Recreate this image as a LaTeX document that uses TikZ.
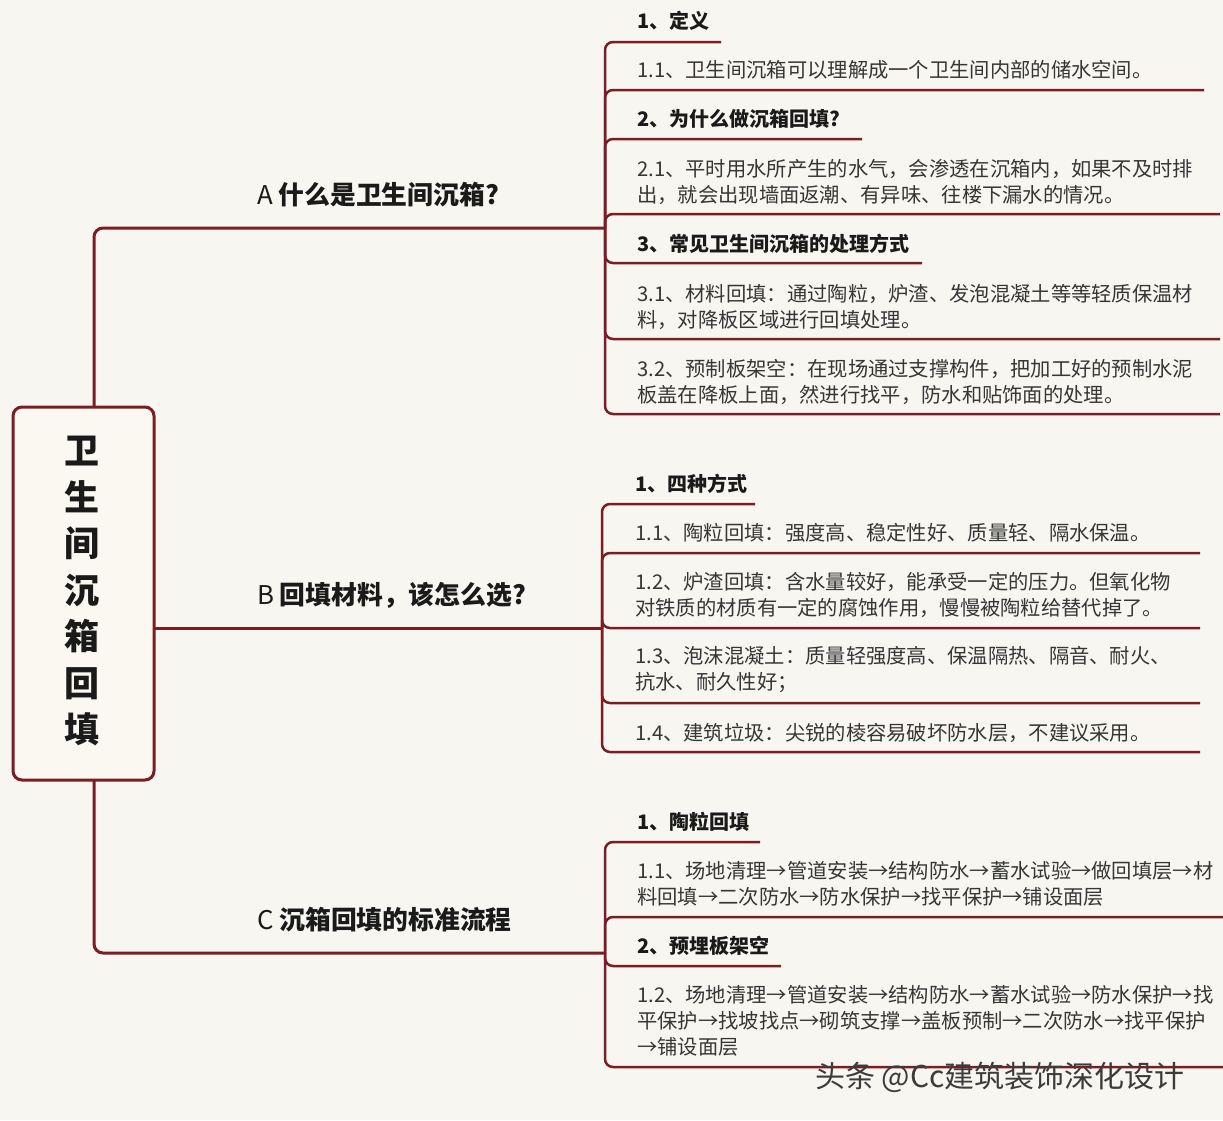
\documentclass[tikz,border=0pt]{standalone}
\usepackage{fontspec}
\setmainfont{Noto Sans CJK SC}
\definecolor{bg}{HTML}{F7F6F1}
\definecolor{ln}{HTML}{7A1E24}
\definecolor{rootfill}{HTML}{FAF8F0}
\definecolor{txt}{HTML}{363636}
\definecolor{hd}{HTML}{1A1A1A}
\begin{document}
\begin{tikzpicture}[x=1pt,y=-1pt,
  br/.style={draw=ln, line width=3pt, rounded corners=9pt},
  sub/.style={draw=ln, line width=2.5pt, rounded corners=8pt},
  body/.style={anchor=west, inner sep=0pt, align=left, text=txt, font=\fontsize{20.3}{26}\selectfont},
  head/.style={anchor=west, inner sep=0pt, text=hd, font=\fontsize{20}{26}\selectfont\bfseries},
  lab/.style={anchor=west, inner sep=0pt, text=hd, font=\fontsize{25.8}{30}\selectfont}]
\fill[bg] (0,0) rectangle (1223,1120);
\useasboundingbox (0,0) rectangle (1223,1120);

% coordinates of branch ends
\coordinate (Aend) at (605,228);
\coordinate (Bend) at (602,628);
\coordinate (Cend) at (605,953);

% main branches
\draw[br] (94,500) |- (Aend);
\draw[br] (100,628) -- (Bend);
\draw[br] (94,700) |- (Cend);

% root
\node[draw=ln, line width=3pt, fill=rootfill, rounded corners=9pt, minimum width=141pt, minimum height=373pt, inner sep=0pt] (root) at (83.5,593.5) {};
\node[inner sep=0pt, align=center, text=hd, font=\fontsize{35}{46.5}\selectfont\bfseries] (rootlbl) at (82,591) {卫\\生\\间\\沉\\箱\\回\\填};

% branch labels
\node[lab] (A) at (257,195) {A \bfseries 什么是卫生间沉箱?};
\node[lab] (B) at (257,595) {B \bfseries 回填材料，该怎么选?};
\node[lab] (C) at (257,920) {C \bfseries 沉箱回填的标准流程};

% A subtree
\draw[sub] (Aend) |- (721,42);
\draw[sub] (Aend) |- (1204,90);
\draw[sub] (Aend) |- (862,139);
\draw[sub] (Aend) |- (1220,214);
\draw[sub] (Aend) |- (922,263);
\draw[sub] (Aend) |- (1220,339);
\draw[sub] (Aend) |- (1220,414);
\node[head] (a1) at (637,21) {1、定义};
\node[body] (a2) at (637,70) {1.1、卫生间沉箱可以理解成一个卫生间内部的储水空间。};
\node[head] (a3) at (637,119) {2、为什么做沉箱回填?};
\node[body] (a4) at (637,182) {2.1、平时用水所产生的水气，会渗透在沉箱内，如果不及时排\\出，就会出现墙面返潮、有异味、往楼下漏水的情况。};
\node[head] (a5) at (637,244) {3、常见卫生间沉箱的处理方式};
\node[body] (a6) at (637,307) {3.1、材料回填：通过陶粒，炉渣、发泡混凝土等等轻质保温材\\料，对降板区域进行回填处理。};
\node[body] (a7) at (637,382) {3.2、预制板架空：在现场通过支撑构件，把加工好的预制水泥\\板盖在降板上面，然进行找平，防水和贴饰面的处理。};

% B subtree
\draw[sub] (Bend) |- (755,504);
\draw[sub] (Bend) |- (1200,553);
\draw[sub] (Bend) |- (1200,628);
\draw[sub] (Bend) |- (1200,703);
\draw[sub] (Bend) |- (1200,752);
\node[head] (b1) at (635,484) {1、四种方式};
\node[body] (b2) at (635,533) {1.1、陶粒回填：强度高、稳定性好、质量轻、隔水保温。};
\node[body] (b3) at (635,595) {1.2、炉渣回填：含水量较好，能承受一定的压力。但氧化物\\对铁质的材质有一定的腐蚀作用，慢慢被陶粒给替代掉了。};
\node[body] (b4) at (635,670) {1.3、泡沫混凝土：质量轻强度高、保温隔热、隔音、耐火、\\抗水、耐久性好；};
\node[body] (b5) at (635,733) {1.4、建筑垃圾：尖锐的棱容易破坏防水层，不建议采用。};

% C subtree
\draw[sub] (Cend) |- (760,842);
\draw[sub] (Cend) |- (1223,917);
\draw[sub] (Cend) |- (781,966);
\draw[sub] (Cend) |- (1223,1067);
\node[head] (c1) at (637,822) {1、陶粒回填};
\node[body] (c2) at (637,884) {1.1、场地清理→管道安装→结构防水→蓄水试验→做回填层→材\\料回填→二次防水→防水保护→找平保护→铺设面层};
\node[head] (c3) at (637,946) {2、预埋板架空};
\node[body] (c4) at (637,1021) {1.2、场地清理→管道安装→结构防水→蓄水试验→防水保护→找\\平保护→找坡找点→砌筑支撑→盖板预制→二次防水→找平保护\\→铺设面层};

% watermark caption
\node[inner sep=0pt, text=hd!85, font=\fontsize{30}{32}\selectfont] (wm) at (1000,1077) {头条 @Cc建筑装饰深化设计};
\end{tikzpicture}
\end{document}
